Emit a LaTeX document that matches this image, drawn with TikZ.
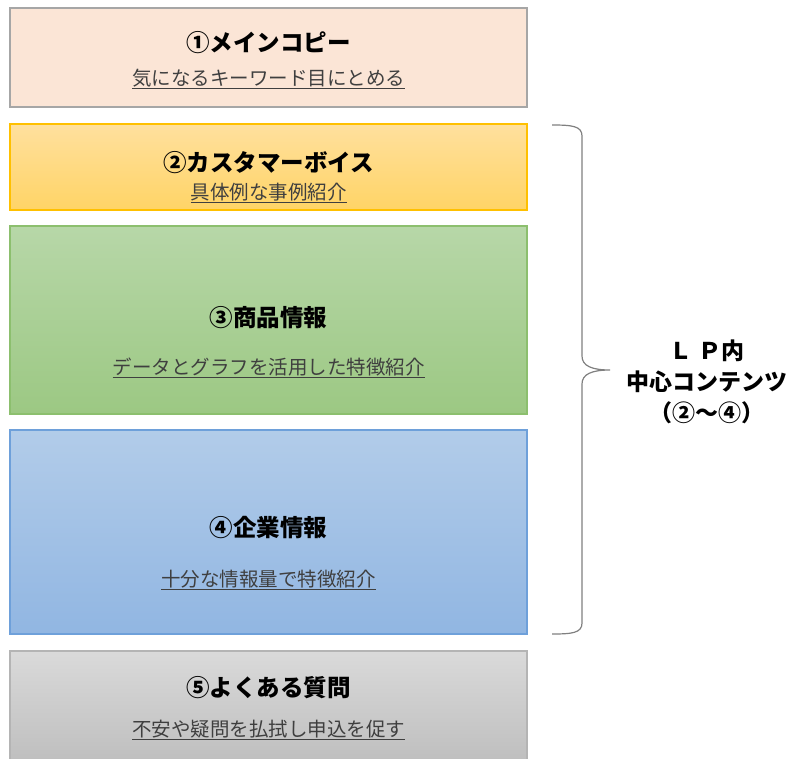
\documentclass[tikz,border=0pt]{standalone}
\usepackage{fontspec}
\newfontfamily\jp{Noto Sans CJK JP}
\usetikzlibrary{positioning}
\definecolor{peach}{HTML}{FBE5D6}
\definecolor{peachline}{HTML}{A6A6A6}
\definecolor{orTop}{HTML}{FFE09E}
\definecolor{orBot}{HTML}{FFD466}
\definecolor{orLine}{HTML}{FFC000}
\definecolor{grTop}{HTML}{B7D7A8}
\definecolor{grBot}{HTML}{9CC883}
\definecolor{grLine}{HTML}{8CBF6E}
\definecolor{blTop}{HTML}{B2CCE9}
\definecolor{blBot}{HTML}{91B6E2}
\definecolor{blLine}{HTML}{6EA0DA}
\definecolor{gyTop}{HTML}{DADADA}
\definecolor{gyBot}{HTML}{BEBEBE}
\definecolor{gyLine}{HTML}{B4B4B4}
\definecolor{subtxt}{HTML}{3F3F3F}
\definecolor{bracec}{HTML}{808080}
\tikzset{
  box/.style={rectangle, minimum width=517pt, inner sep=0pt, line width=1.3pt},
  ttl/.style={font=\jp\bfseries\fontsize{23.5}{28}\selectfont, text=black, inner sep=0pt},
  sub/.style={font=\jp\fontsize{19.5}{23}\selectfont, text=subtxt, inner sep=0pt},
  side/.style={font=\jp\bfseries\fontsize{23}{31}\selectfont, align=center, inner sep=0pt},
}
\newcommand{\ul}[1]{\underline{#1}}
\begin{document}
\begin{tikzpicture}[x=1pt,y=-1pt]
\useasboundingbox (0,0) rectangle (795,758);
\fill[white] (0,0) rectangle (795,758);
% boxes
\node[box, fill=peach, draw=peachline, minimum height=99pt] (b1) at (268.5,57.5) {};
\node[box, top color=orTop, bottom color=orBot, draw=orLine, minimum height=86pt] (b2) at (268.5,167) {};
\node[box, top color=grTop, bottom color=grBot, draw=grLine, minimum height=188pt] (b3) at (268.5,320) {};
\node[box, top color=blTop, bottom color=blBot, draw=blLine, minimum height=204pt] (b4) at (268.5,532) {};
\node[box, top color=gyTop, bottom color=gyBot, draw=gyLine, minimum height=112pt] (b5) at (268.5,707) {};
% texts
\node[ttl] (t1) at (268.5,43) {①メインコピー};
\node[sub] (s1) at (268.5,79) {\ul{気になるキーワード目にとめる}};
\node[ttl] (t2) at (268.5,163) {②カスタマーボイス};
\node[sub] (s2) at (268.5,193) {\ul{具体例な事例紹介}};
\node[ttl] (t3) at (268.5,318) {③商品情報};
\node[sub] (s3) at (268.5,368) {\ul{データとグラフを活用した特徴紹介}};
\node[ttl] (t4) at (268.5,528) {④企業情報};
\node[sub] (s4) at (268.5,580) {\ul{十分な情報量で特徴紹介}};
\node[ttl] (t5) at (268.5,688) {⑤よくある質問};
\node[sub] (s5) at (268.5,730) {\ul{不安や疑問を払拭し申込を促す}};
% brace
\coordinate (bt) at (552,125);
\coordinate (bb) at (552,634);
\coordinate (tip) at (610,370);
\draw[bracec, line width=1.2pt]
  (bt) .. controls (572,125) and (582,126) .. (582,136)
  -- (582,356) .. controls (582,366) and (592,370) .. (tip)
  .. controls (592,370) and (582,374) .. (582,384)
  -- (582,623) .. controls (582,633) and (572,634) .. (bb);
\node[side] (lbl) at (707,382) {Ｌ Ｐ内\\中心コンテンツ\\（②～④）};
\end{tikzpicture}
\end{document}
